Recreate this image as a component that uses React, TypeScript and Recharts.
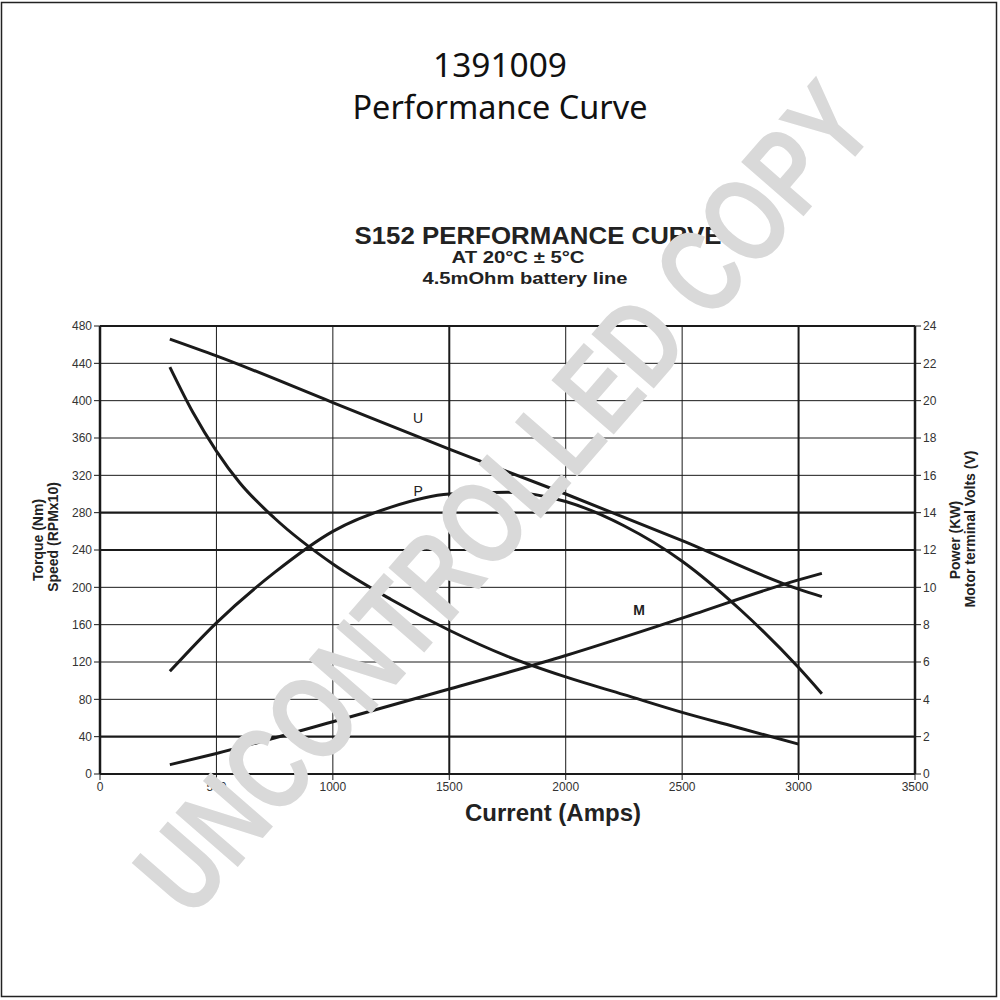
import React from "react";
import { LineChart, Line, XAxis, YAxis, ReferenceLine, ReferenceDot } from "recharts";

// current (A) vs value
const speedData = [
  { x: 300, y: 436 }, { x: 400, y: 387 }, { x: 500, y: 346 }, { x: 600, y: 312 }, { x: 750, y: 274 },
  { x: 1000, y: 225 }, { x: 1250, y: 187 }, { x: 1500, y: 154 }, { x: 1750, y: 126 },
  { x: 2000, y: 104 }, { x: 2250, y: 85 }, { x: 2500, y: 66 }, { x: 2750, y: 49 }, { x: 3000, y: 32 },
];
const torqueData = [
  { x: 300, y: 10 }, { x: 500, y: 22 }, { x: 1000, y: 56 }, { x: 1500, y: 91 },
  { x: 2000, y: 127 }, { x: 2500, y: 167 }, { x: 3000, y: 208 }, { x: 3100, y: 215 },
];
const voltsData = [
  { x: 300, y: 23.3 }, { x: 500, y: 22.4 }, { x: 1000, y: 19.9 }, { x: 1500, y: 17.4 },
  { x: 2000, y: 15.0 }, { x: 2500, y: 12.5 }, { x: 3000, y: 9.9 }, { x: 3100, y: 9.5 },
];
const powerData = [
  { x: 300, y: 5.5 }, { x: 500, y: 8.1 }, { x: 750, y: 10.8 }, { x: 1000, y: 13.0 },
  { x: 1250, y: 14.3 }, { x: 1500, y: 15.0 }, { x: 1750, y: 15.1 }, { x: 2000, y: 14.6 },
  { x: 2250, y: 13.3 }, { x: 2500, y: 11.4 }, { x: 2750, y: 8.8 }, { x: 3000, y: 5.7 }, { x: 3100, y: 4.3 },
];

const xTicks = [0, 500, 1000, 1500, 2000, 2500, 3000, 3500];
const leftTicks = [0, 40, 80, 120, 160, 200, 240, 280, 320, 360, 400, 440, 480];
const rightTicks = [0, 2, 4, 6, 8, 10, 12, 14, 16, 18, 20, 22, 24];
const thickH = [40, 240, 280, 480];
const thickV = [1500, 3000];

const ink = "#1a1a1a";
const tickStyle = { fontFamily: "Liberation Sans, Arial, sans-serif", fontSize: 12, fill: "#333" };
const bold = "Liberation Sans, Arial, sans-serif";

export default function App() {
  return (
    <div style={{ position: "absolute", left: 0, top: 0, width: 1000, height: 1000, background: "#fff" }}>
      <svg width={1000} height={1000} style={{ position: "absolute", left: 0, top: 0 }}>
        <rect x={1.5} y={2.5} width={995} height={994} fill="none" stroke="#222" strokeWidth={1.5} />
        <text x={500} y={77} textAnchor="middle" fontFamily="Noto Sans" fontSize={33} textLength={134} lengthAdjust="spacingAndGlyphs" fill="#111">1391009</text>
        <text x={500} y={119} textAnchor="middle" fontFamily="Noto Sans" fontSize={33} textLength={295} lengthAdjust="spacingAndGlyphs" fill="#111">Performance Curve</text>
        <text x={538} y={244} textAnchor="middle" fontFamily={bold} fontWeight="bold" fontSize={23} textLength={367} lengthAdjust="spacingAndGlyphs" fill="#222">S152 PERFORMANCE CURVE</text>
        <text x={518} y={263} textAnchor="middle" fontFamily={bold} fontWeight="bold" fontSize={16} textLength={133} lengthAdjust="spacingAndGlyphs" fill="#222">AT 20°C ± 5°C</text>
        <text x={525} y={284} textAnchor="middle" fontFamily={bold} fontWeight="bold" fontSize={16} textLength={205} lengthAdjust="spacingAndGlyphs" fill="#222">4.5mOhm battery line</text>
        <text transform="translate(43,540) rotate(-90)" textAnchor="middle" fontFamily={bold} fontWeight="bold" fontSize={14} fill="#222">Torque (Nm)</text>
        <text transform="translate(58,537) rotate(-90)" textAnchor="middle" fontFamily={bold} fontWeight="bold" fontSize={14} fill="#222">Speed (RPMx10)</text>
        <text transform="translate(960,540) rotate(-90)" textAnchor="middle" fontFamily={bold} fontWeight="bold" fontSize={14} fill="#222">Power (KW)</text>
        <text transform="translate(975,529) rotate(-90)" textAnchor="middle" fontFamily={bold} fontWeight="bold" fontSize={14} fill="#222">Motor terminal Volts (V)</text>
        <text x={553} y={821} textAnchor="middle" fontFamily={bold} fontWeight="bold" fontSize={24} fill="#222">Current (Amps)</text>
      </svg>
      <div style={{ position: "absolute", left: 0, top: 0 }}>
        <LineChart width={1000} height={1000} margin={{ top: 326, right: 0, bottom: 196, left: 0 }}>
          <XAxis type="number" dataKey="x" domain={[0, 3500]} ticks={xTicks} height={30}
            tick={tickStyle} tickLine={{ stroke: ink }} axisLine={{ stroke: ink, strokeWidth: 2 }} allowDuplicatedCategory={false} />
          <YAxis yAxisId="left" type="number" domain={[0, 480]} ticks={leftTicks} width={100}
            tick={tickStyle} tickLine={{ stroke: ink }} axisLine={{ stroke: ink, strokeWidth: 2.5 }} />
          <YAxis yAxisId="right" orientation="right" type="number" domain={[0, 24]} ticks={rightTicks} width={85}
            tick={tickStyle} tickLine={{ stroke: ink }} axisLine={{ stroke: ink, strokeWidth: 2.5 }} />
          {leftTicks.slice(1).map((v) => (
            <ReferenceLine key={"h" + v} yAxisId="left" y={v} stroke={ink} strokeWidth={thickH.includes(v) ? 2.2 : 1} />
          ))}
          {xTicks.slice(1, -1).map((v) => (
            <ReferenceLine key={"v" + v} yAxisId="left" x={v} stroke={ink} strokeWidth={thickV.includes(v) ? 2 : 1} />
          ))}
          <Line yAxisId="left" data={speedData} dataKey="y" type="monotone" stroke={ink} strokeWidth={3} dot={false} isAnimationActive={false} />
          <Line yAxisId="left" data={torqueData} dataKey="y" type="monotone" stroke={ink} strokeWidth={3} dot={false} isAnimationActive={false} />
          <Line yAxisId="right" data={voltsData} dataKey="y" type="monotone" stroke={ink} strokeWidth={3} dot={false} isAnimationActive={false} />
          <Line yAxisId="right" data={powerData} dataKey="y" type="monotone" stroke={ink} strokeWidth={3} dot={false} isAnimationActive={false} />
          <ReferenceDot yAxisId="left" x={1366} y={381} r={0} label={{ value: "U", fontFamily: bold, fontSize: 14, fill: "#222" }} />
          <ReferenceDot yAxisId="left" x={1366} y={303} r={0} label={{ value: "P", fontFamily: bold, fontSize: 14, fill: "#222" }} />
          <ReferenceDot yAxisId="left" x={2315} y={176} r={0} label={{ value: "M", fontFamily: bold, fontSize: 14, fontWeight: "bold", fill: "#222" }} />
        </LineChart>
      </div>
      <svg width={1000} height={1000} style={{ position: "absolute", left: 0, top: 0, pointerEvents: "none" }}>
        <text transform="translate(535,525) rotate(-49)" textAnchor="middle" fontFamily={bold} fontWeight="bold" fontSize={120}
          textLength={1050} lengthAdjust="spacingAndGlyphs" fill="#d9d9d9">UNCONTROLLED COPY</text>
      </svg>
    </div>
  );
}
